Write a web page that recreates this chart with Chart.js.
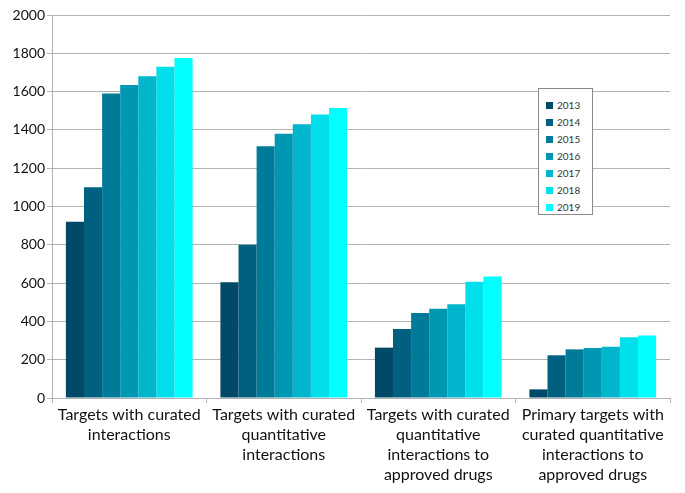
<!DOCTYPE html>
<html>
<head>
<meta charset="utf-8">
<script src="https://cdn.jsdelivr.net/npm/chart.js@4"></script>
<style>
  body { margin: 0; background: #fff; }
  #wrap { position: relative; width: 685px; height: 493px; }
  #legenda {
    position: absolute; left: 538px; top: 88px; width: 55px; height: 127px;
    border: 1px solid #8a8a8a; background: #fff; box-sizing: border-box;
    font-family: Lato, sans-serif; font-size: 10px; color: #333;
    padding-top: 8px;
  }
  .item { height: 17px; line-height: 17px; padding-left: 7px; display: flex; align-items: center; }
  .cor { width: 7px; height: 7px; margin-right: 4px; }
</style>
</head>
<body>
<div id="wrap">
  <canvas id="grafico" width="685" height="493"></canvas>
  <div id="legenda"></div>
</div>
<script>
// categorias
const categorias = [
  ["Targets with curated", "interactions"],
  ["Targets with curated", "quantitative", "interactions"],
  ["Targets with curated", "quantitative", "interactions to", "approved drugs"],
  ["Primary targets with", "curated quantitative", "interactions to", "approved drugs"]
];
const anos = ["2013", "2014", "2015", "2016", "2017", "2018", "2019"];
const cores = ["#004a68", "#006080", "#007a99", "#0097b3", "#00b5cc", "#00dfea", "#00ffff"];

// valores por ano
const v2013 = [920, 605, 263, 45];
const v2014 = [1100, 800, 360, 223];
const v2015 = [1590, 1315, 444, 254];
const v2016 = [1635, 1380, 466, 261];
const v2017 = [1680, 1430, 489, 268];
const v2018 = [1730, 1480, 607, 317];
const v2019 = [1775, 1515, 635, 327];
const valores = [v2013, v2014, v2015, v2016, v2017, v2018, v2019];

const yTicks = [0, 200, 400, 600, 800, 1000, 1200, 1400, 1600, 1800, 2000];

const datasets = anos.map((ano, i) => ({
  label: ano,
  data: valores[i],
  backgroundColor: cores[i],
  borderWidth: 0,
  barPercentage: 1.0,
  categoryPercentage: 0.82
}));

new Chart(document.getElementById("grafico"), {
  type: "bar",
  data: { labels: categorias, datasets: datasets },
  options: {
    responsive: false,
    animation: false,
    layout: { padding: { top: 15, right: 15, left: 0, bottom: 0 } },
    plugins: { legend: { display: false }, tooltip: { enabled: false } },
    scales: {
      x: {
        grid: { offset: true, drawOnChartArea: false, tickLength: 5, color: "#b3b3b3" },
        border: { color: "#b3b3b3" },
        ticks: {
          color: "#111",
          font: { family: "Lato", size: 16, lineHeight: 1.25 },
          maxRotation: 0,
          autoSkip: false,
          padding: 2
        },
        afterFit: (scale) => { scale.height = 95; }
      },
      y: {
        min: 0,
        max: 2000,
        afterBuildTicks: (scale) => { scale.ticks = yTicks.map((v) => ({ value: v })); },
        grid: { color: "#b3b3b3", tickLength: 5 },
        border: { color: "#b3b3b3" },
        ticks: {
          color: "#111",
          font: { family: "Lato", size: 14 },
          padding: 2,
          callback: (valor) => String(valor)
        },
        afterFit: (scale) => { scale.width = 52; }
      }
    }
  }
});

// legenda
const legenda = document.getElementById("legenda");
anos.forEach((ano, i) => {
  const item = document.createElement("div");
  item.classList.add("item");
  item.innerHTML = `<span class="cor" style="background:${cores[i]}"></span><span>${ano}</span>`;
  legenda.appendChild(item);
});
</script>
</body>
</html>
